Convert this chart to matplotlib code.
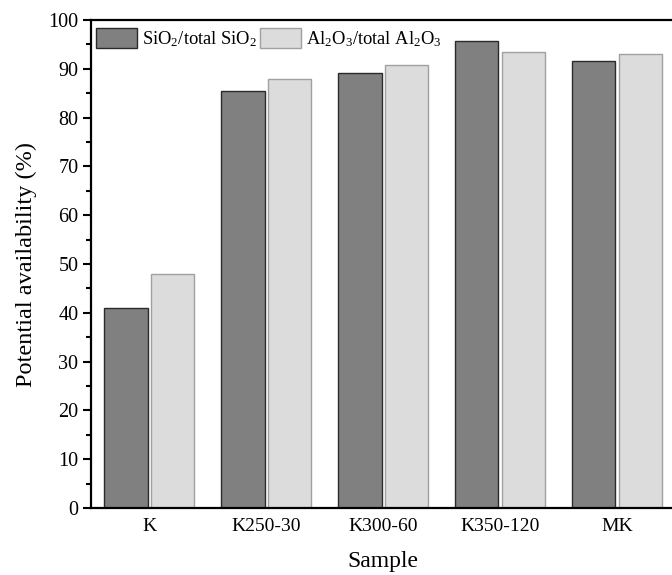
import matplotlib
matplotlib.use("Agg")
import matplotlib.pyplot as plt
import numpy as np

plt.rcParams['font.family'] = ['Liberation Serif', 'DejaVu Serif']
plt.rcParams['mathtext.fontset'] = 'custom'
plt.rcParams['mathtext.rm'] = 'Liberation Serif'
plt.rcParams['mathtext.it'] = 'Liberation Serif:italic'

samples = ["K", "K250-30", "K300-60", "K350-120", "MK"]
sio2 = [41.0, 85.5, 89.2, 95.7, 91.5]
al2o3 = [48.0, 87.9, 90.7, 93.5, 93.1]
series_labels = [r"SiO$_2$/total SiO$_2$", r"Al$_2$O$_3$/total Al$_2$O$_3$"]

fig = plt.figure(figsize=(6.72, 5.75), dpi=100)
ax = fig.add_axes([0.1354, 0.1165, 0.87, 0.8487])

x = np.arange(len(samples))
w = 0.37
ax.bar(x - 0.2, sio2, w, color="#808080", edgecolor="#2a2a2a", linewidth=1.0, label=series_labels[0])
ax.bar(x + 0.2, al2o3, w, color="#dcdcdc", edgecolor="#a0a0a0", linewidth=1.0, label=series_labels[1])

ax.set_xlim(-0.5, 4.5)
ax.set_ylim(0, 100)
ax.set_yticks(np.arange(0, 101, 10))
ax.set_yticks(np.arange(5, 100, 10), minor=True)
ax.set_xticks(x)
ax.set_xticklabels(samples)
ax.tick_params(axis='y', which='major', direction='out', length=6, width=1.5, labelsize=14.5, pad=3)
ax.tick_params(axis='y', which='minor', direction='out', length=3.5, width=1.5)
ax.tick_params(axis='x', length=0, labelsize=14, pad=7)

for s in ['left', 'bottom', 'top']:
    ax.spines[s].set_linewidth(1.6)
ax.spines['right'].set_visible(False)

ax.set_ylabel("Potential availability (%)", fontsize=17.5, labelpad=8)
ax.set_xlabel("Sample", fontsize=17, labelpad=12)

ax.legend(loc='upper left', bbox_to_anchor=(0.0, 0.993), ncol=2, frameon=False, fontsize=13.3,
          handlelength=2.25, handleheight=1.3, columnspacing=0.15, handletextpad=0.25,
          borderaxespad=0.1, borderpad=0.15)

fig.savefig("out.png", dpi=100)
